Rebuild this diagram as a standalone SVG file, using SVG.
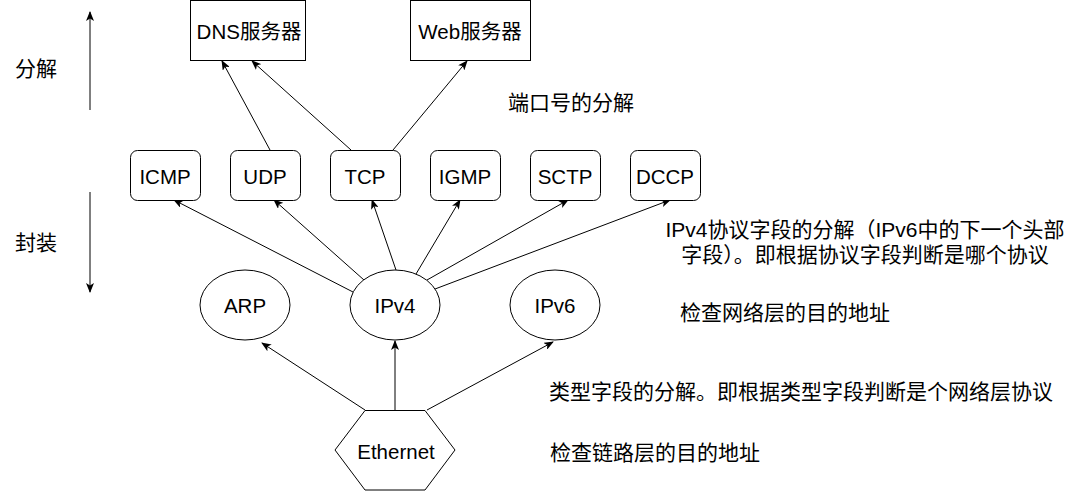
<svg xmlns="http://www.w3.org/2000/svg" width="1071" height="491" viewBox="0 0 1071 491">
<defs>
<marker id="arr" viewBox="0 0 10 8" refX="9" refY="4" markerWidth="10" markerHeight="8" markerUnits="userSpaceOnUse" orient="auto">
<path d="M0,0 L10,4 L0,8 L2.5,4 Z" fill="#000"/>
</marker>
</defs>
<style>
.shape{fill:#fff;stroke:#000;stroke-width:1}
.t{font-family:"Liberation Sans","Noto Sans CJK SC",sans-serif;font-size:20.5px;fill:#000;text-anchor:middle;dominant-baseline:central}
.l{font-family:"Liberation Sans","Noto Sans CJK SC",sans-serif;font-size:21px;fill:#000;dominant-baseline:central}
.e{fill:none;stroke:#000;stroke-width:1;marker-end:url(#arr)}
</style>
<rect width="1071" height="491" fill="#fff"/>
<g id="connectors">
<line class="e" x1="270" y1="150" x2="222" y2="61"/>
<line class="e" x1="351" y1="150" x2="252" y2="61"/>
<line class="e" x1="393" y1="150" x2="467" y2="61"/>
<line class="e" x1="353" y1="292" x2="174" y2="200"/>
<line class="e" x1="364" y1="280" x2="274" y2="200"/>
<line class="e" x1="396" y1="270" x2="372" y2="200"/>
<line class="e" x1="416" y1="274" x2="460" y2="200"/>
<line class="e" x1="427" y1="280" x2="568" y2="200"/>
<line class="e" x1="435" y1="289" x2="670" y2="200"/>
<line class="e" x1="365" y1="410" x2="262" y2="343"/>
<line class="e" x1="395" y1="410" x2="395" y2="341"/>
<line class="e" x1="427" y1="410" x2="553" y2="342"/>
<line class="e" x1="90" y1="110" x2="90" y2="12"/>
<line class="e" x1="90" y1="192" x2="90" y2="292"/>
</g>
<g id="dns"><rect class="shape" x="190.5" y="0.5" width="115" height="60"/><text class="t" x="249" y="31">DNS服务器</text></g>
<g id="web"><rect class="shape" x="410.5" y="0.5" width="120" height="60"/><text class="t" x="470" y="31">Web服务器</text></g>
<g id="icmp"><rect class="shape" x="130.5" y="150.5" width="70" height="50" rx="7"/><text class="t" x="165" y="176">ICMP</text></g>
<g id="udp"><rect class="shape" x="230.5" y="150.5" width="70" height="50" rx="7"/><text class="t" x="265" y="176">UDP</text></g>
<g id="tcp"><rect class="shape" x="330.5" y="150.5" width="70" height="50" rx="7"/><text class="t" x="365" y="176">TCP</text></g>
<g id="igmp"><rect class="shape" x="430.5" y="150.5" width="70" height="50" rx="7"/><text class="t" x="465" y="176">IGMP</text></g>
<g id="sctp"><rect class="shape" x="530.5" y="150.5" width="70" height="50" rx="7"/><text class="t" x="565" y="176">SCTP</text></g>
<g id="dccp"><rect class="shape" x="630.5" y="150.5" width="70" height="50" rx="7"/><text class="t" x="665" y="176">DCCP</text></g>
<g id="arp"><ellipse class="shape" cx="245" cy="305" rx="45" ry="35"/><text class="t" x="245" y="305">ARP</text></g>
<g id="ipv4"><ellipse class="shape" cx="395" cy="305" rx="45" ry="35"/><text class="t" x="395" y="305">IPv4</text></g>
<g id="ipv6"><ellipse class="shape" cx="555" cy="305" rx="45" ry="35"/><text class="t" x="555" y="305">IPv6</text></g>
<g id="ethernet"><polygon class="shape" points="365,410.5 425,410.5 455,450 425,490 365,490 335,450"/><text class="t" x="396" y="451">Ethernet</text></g>
<g id="labels">
<text class="l" x="15" y="68">分解</text>
<text class="l" x="15" y="242">封装</text>
<text class="l" x="508" y="102">端口号的分解</text>
<text class="l" x="865" y="229" text-anchor="middle">IPv4协议字段的分解（IPv6中的下一个头部</text>
<text class="l" x="865" y="254" text-anchor="middle">字段）。即根据协议字段判断是哪个协议</text>
<text class="l" x="680" y="312">检查网络层的目的地址</text>
<text class="l" x="549" y="391">类型字段的分解。即根据类型字段判断是个网络层协议</text>
<text class="l" x="550" y="452">检查链路层的目的地址</text>
</g>
</svg>
